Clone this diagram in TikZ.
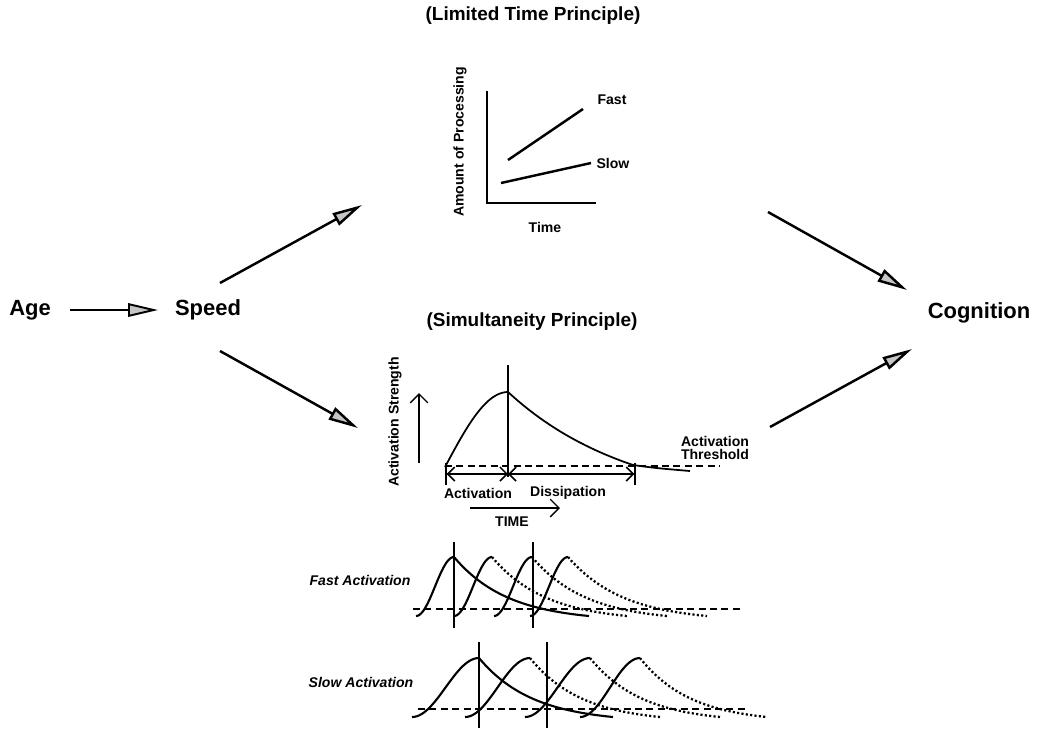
\documentclass[tikz,border=0pt]{standalone}
\usepackage{fontspec}
\setmainfont{Liberation Sans}
\usetikzlibrary{arrows.meta}
% rise (sine shape): style, peak x, peak y, width, height
\newcommand{\riseSin}[5]{\draw[#1] plot[domain=0:1,samples=30] ({#2-#4*(1-\x)},{#3+#5-#5*sin(90*\x)});}
% rise (cosine S shape)
\newcommand{\riseCos}[5]{\draw[#1] plot[domain=0:1,samples=30] ({#2-#4*(1-\x)},{#3+#5*(1+cos(180*\x))/2});}
% decay: style, peak x, peak y, length, height, rate
\newcommand{\decayK}[6]{\draw[#1] plot[domain=0:1,samples=40] ({#2+#4*\x},{#3+#5*(1-exp(-#6*\x))/(1-exp(-#6))});}
\begin{document}
\begin{tikzpicture}[x=0.02cm,y=-0.02cm,
  big/.style={font=\bfseries\fontsize{12.5}{14}\selectfont, inner sep=0pt},
  ttl/.style={font=\bfseries\fontsize{10.8}{12}\selectfont, inner sep=0pt},
  lab/.style={font=\bfseries\fontsize{8}{7.6}\selectfont, inner sep=0pt, align=center},
  ilab/.style={font=\bfseries\itshape\fontsize{8}{9}\selectfont, inner sep=0pt},
  bigarrow/.style={line width=1.4pt, -{Triangle[length=0.6cm,width=0.27cm,fill=gray!45]}},
  axis/.style={line width=1.4pt},
  curve/.style={line width=1pt},
  pcurve/.style={line width=1.2pt},
  pdot/.style={line width=1.3pt, dash pattern=on 1.2pt off 1.3pt},
  thr/.style={line width=0.9pt, dash pattern=on 4pt off 2.5pt},
  vline/.style={line width=0.9pt}]
\useasboundingbox (0,0) rectangle (1037,728);

% main labels
\node[big] (age) at (30,310) {Age};
\node[big] (speed) at (208,310) {Speed};
\node[big] (cognition) at (979,313) {Cognition};
\node[ttl] (ltp) at (533,16) {(Limited Time Principle)};
\node[ttl] (sp) at (532,322) {(Simultaneity Principle)};

% arrow end points
\coordinate (ageS) at (70,310);
\coordinate (ageT) at (158,310);
\coordinate (ulS) at (220,283);
\coordinate (ulT) at (362,205);
\coordinate (llS) at (220,351);
\coordinate (llT) at (358,428);
\coordinate (urS) at (768,212);
\coordinate (urT) at (907,290);
\coordinate (lrS) at (770,427);
\coordinate (lrT) at (912,349);
\draw[bigarrow, line width=1.1pt] (ageS) -- (ageT);
\draw[bigarrow] (ulS) -- (ulT);
\draw[bigarrow] (llS) -- (llT);
\draw[bigarrow] (urS) -- (urT);
\draw[bigarrow] (lrS) -- (lrT);

% ---------- Limited time chart ----------
\coordinate (ytop) at (487,91);
\coordinate (orig) at (487,203);
\coordinate (xend) at (596,203);
\draw[axis] (ytop) -- (orig) -- (xend);
\coordinate (f1) at (508,160);
\coordinate (f2) at (583,109);
\coordinate (s1) at (501,183);
\coordinate (s2) at (591,163);
\draw[axis] (f1) -- (f2);
\draw[axis] (s1) -- (s2);
\node[lab] (fast) at (612,100) {Fast};
\node[lab] (slow) at (613,163) {Slow};
\node[lab] (time) at (545,227) {Time};
\node[lab, rotate=90] (amount) at (460,142) {Amount of Processing};

% ---------- Simultaneity chart ----------
\coordinate (vtop) at (508,365);
\coordinate (vbot) at (508,477);
\draw[vline] (vtop) -- (vbot);
\riseSin{curve}{508}{392}{63}{75}
\decayK{curve}{508}{392}{125}{73}{1}
\coordinate (tailA) at (633,465);
\coordinate (tailB) at (690,471);
\draw[curve] (tailA) .. controls (655,468) .. (tailB);
\coordinate (thrA) at (445,466);
\coordinate (thrB) at (720,466);
\draw[thr] (thrA) -- (thrB);
\coordinate (dimA) at (445,474);
\coordinate (dimM) at (508,474);
\coordinate (dimB) at (636,474);
\draw[line width=0.9pt, {Bar[width=13pt]Straight Barb[length=4pt]}-{Straight Barb[length=4pt]}] (dimA) -- (dimM);
\draw[line width=0.9pt, {Straight Barb[length=4pt]}-{Straight Barb[length=4pt]Bar[width=13pt]}] (dimM) -- (dimB);
\node[lab] (actl) at (478,493) {Activation};
\node[lab] (disl) at (568,493) {Dissipation};
\coordinate (tA) at (470,508);
\coordinate (tB) at (560,508);
\draw[line width=0.8pt, -{Straight Barb[length=5pt]}] (tA) -- (tB);
\node[lab] (timel) at (512,522) {TIME};
\coordinate (uA) at (419,463);
\coordinate (uB) at (419,393);
\draw[line width=0.8pt, -{Straight Barb[length=5pt]}] (uA) -- (uB);
\node[lab, rotate=90] (astr) at (395,422) {Activation Strength};
\node[lab] (athr) at (715,448) {Activation\\Threshold};

% ---------- Fast activation ----------
\node[ilab] (fastact) at (360,580) {Fast Activation};
\draw[thr] (413,609) -- (742,609);
\draw[vline] (454,542) -- (454,628);
\draw[vline] (533,542) -- (533,628);
\riseCos{pcurve}{454}{557}{38}{59}
\decayK{pcurve}{454}{557}{135}{59}{2.5}
\riseCos{pcurve}{492}{557}{38}{59}
\decayK{pdot}{492}{557}{135}{59}{2.5}
\riseCos{pcurve}{532}{557}{38}{59}
\decayK{pdot}{532}{557}{135}{59}{2.5}
\riseCos{pcurve}{568}{557}{38}{59}
\decayK{pdot}{568}{557}{139}{59}{2.5}

% ---------- Slow activation ----------
\node[ilab] (slowact) at (361,682) {Slow Activation};
\draw[thr] (418,709) -- (747,709);
\draw[vline] (479,642) -- (479,728);
\draw[vline] (547,642) -- (547,728);
\riseCos{pcurve}{479}{658}{67}{59}
\decayK{pcurve}{479}{658}{134}{59}{2.5}
\riseCos{pcurve}{530}{658}{65}{59}
\decayK{pdot}{530}{658}{130}{59}{2.5}
\riseCos{pcurve}{590}{658}{65}{59}
\decayK{pdot}{590}{658}{130}{59}{2.5}
\riseCos{pcurve}{640}{658}{60}{59}
\decayK{pdot}{640}{658}{127}{59}{2.5}
\end{tikzpicture}
\end{document}
